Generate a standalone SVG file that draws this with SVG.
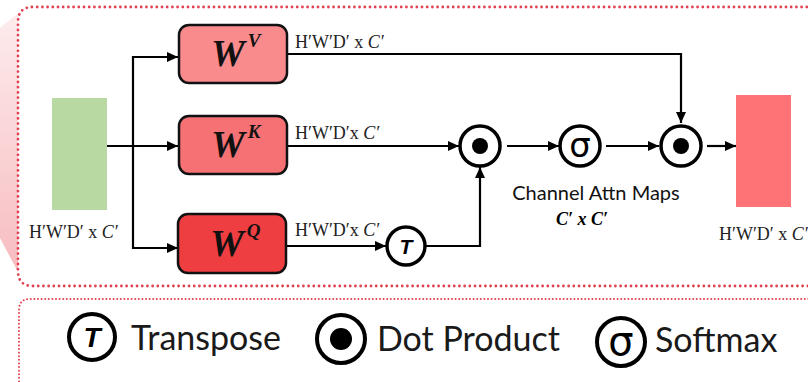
<svg xmlns="http://www.w3.org/2000/svg" width="808" height="382" viewBox="0 0 808 382">
  <defs>
    <marker id="arrow" markerUnits="userSpaceOnUse" markerWidth="11" markerHeight="10" refX="11" refY="5" orient="auto">
      <path d="M0,0 L11,5 L0,10 z" fill="#000"/>
    </marker>
    <linearGradient id="sideFade" x1="0" y1="0" x2="0" y2="1">
      <stop offset="0" stop-color="#fdeced"/>
      <stop offset="1" stop-color="#f7bcc0"/>
    </linearGradient>
  </defs>
  <style>
    .frame { fill: none; stroke: #e0404f; stroke-linecap: round; }
    .wbox { stroke: #111; stroke-width: 2.5; }
    .op { fill: #fff; stroke: #000; stroke-width: 3.5; }
    .wire { fill: none; stroke: #000; stroke-width: 2.2; }
    .dim { font-family: "Liberation Serif", serif; font-size: 18px; fill: #222; }
    .dim .it { font-style: italic; }
    .wmain { font-family: "Liberation Serif", serif; font-weight: bold; font-style: italic; fill: #111; }
    .sans { font-family: Lato, "Open Sans", sans-serif; fill: #111; }
    .legend { font-weight: 400; fill: #1a1a1a; }
  </style>

  <rect width="808" height="382" fill="#fff"/>

  <!-- side fade on the left -->
  <polygon points="0,28 18,13 18,272 0,238" fill="url(#sideFade)"/>

  <!-- dotted frames -->
  <path class="frame" d="M812 7 H33 Q18 7 18 22 V271 Q18 286 33 286 H812" stroke-width="2.8" stroke-dasharray="0 5.2"/>
  <path class="frame" d="M812 299 H30 Q19 299 19 310 V392" stroke-width="2" stroke-dasharray="0 3.6"/>

  <!-- connectors -->
  <g id="connectors">
    <line class="wire" x1="107" y1="146" x2="178" y2="146" marker-end="url(#arrow)"/>
    <polyline class="wire" points="178,57 133,57 133,248 178,248" marker-end="url(#arrow)"/>
    <line class="wire" x1="133" y1="57" x2="178" y2="57" marker-end="url(#arrow)"/>
    <polyline class="wire" points="287,54 681,54 681,123" marker-end="url(#arrow)"/>
    <line class="wire" x1="287" y1="146" x2="459" y2="146" marker-end="url(#arrow)"/>
    <line class="wire" x1="285" y1="246" x2="386" y2="246" marker-end="url(#arrow)"/>
    <polyline class="wire" points="425,246 480,246 480,167" marker-end="url(#arrow)"/>
    <line class="wire" x1="507" y1="146" x2="559" y2="146" marker-end="url(#arrow)"/>
    <line class="wire" x1="606" y1="146" x2="659" y2="146" marker-end="url(#arrow)"/>
    <line class="wire" x1="707" y1="146" x2="736" y2="146" marker-end="url(#arrow)"/>
  </g>

  <!-- input feature map -->
  <g id="input">
    <rect x="52" y="98" width="55" height="112" fill="#b8d9a1"/>
    <text class="dim" x="29" y="238">H′W′D′ x <tspan class="it">C′</tspan></text>
  </g>

  <!-- projections -->
  <g id="wv">
    <rect class="wbox" x="179" y="25" width="108" height="58" rx="10" fill="#f98b8d"/>
    <text class="wmain" x="211" y="66" font-size="38">W<tspan font-size="19" dx="3" dy="-19">V</tspan></text>
  </g>
  <g id="wk">
    <rect class="wbox" x="179" y="116" width="108" height="58" rx="10" fill="#f57174"/>
    <text class="wmain" x="211" y="157" font-size="38">W<tspan font-size="19" dx="3" dy="-19">K</tspan></text>
  </g>
  <g id="wq">
    <rect class="wbox" x="178" y="214" width="108" height="59" rx="10" fill="#ee3e41"/>
    <text class="wmain" x="210" y="256" font-size="38">W<tspan font-size="19" dx="3" dy="-19">Q</tspan></text>
  </g>

  <!-- dimension labels on the branches -->
  <g id="dims">
    <text class="dim" x="295" y="48">H′W′D′ x <tspan class="it">C′</tspan></text>
    <text class="dim" x="295" y="139">H′W′D′x <tspan class="it">C′</tspan></text>
    <text class="dim" x="295" y="236">H′W′D′x <tspan class="it">C′</tspan></text>
  </g>

  <!-- transpose -->
  <g id="transpose">
    <circle class="op" cx="406" cy="246" r="19"/>
    <text x="406" y="254" text-anchor="middle" font-family="'Liberation Sans', sans-serif" font-weight="bold" font-style="italic" font-size="21">T</text>
  </g>

  <!-- dot product K.Q -->
  <g id="dot1">
    <circle class="op" cx="480" cy="146" r="20"/>
    <circle cx="480" cy="146" r="8" fill="#000"/>
  </g>

  <!-- softmax -->
  <g id="softmax">
    <circle class="op" cx="580" cy="146" r="20"/>
    <text x="580" y="157" text-anchor="middle" font-family="'DejaVu Sans', sans-serif" font-size="34">σ</text>
  </g>

  <!-- dot product with V -->
  <g id="dot2">
    <circle class="op" cx="681" cy="146" r="20"/>
    <circle cx="681" cy="146" r="8" fill="#000"/>
  </g>

  <g id="attn-label">
    <text class="sans" x="596" y="200" text-anchor="middle" font-size="20">Channel Attn Maps</text>
    <text x="582" y="225" text-anchor="middle" font-family="'Liberation Serif', serif" font-weight="bold" font-style="italic" font-size="18">C′ x C′</text>
  </g>

  <!-- output feature map -->
  <g id="output">
    <rect x="736" y="95" width="55" height="112" fill="#fe7375"/>
    <text class="dim" x="719" y="240">H′W′D′ x <tspan class="it">C′</tspan></text>
  </g>

  <!-- legend -->
  <g id="legend-transpose">
    <circle cx="92" cy="337" r="23" fill="#fff" stroke="#000" stroke-width="4"/>
    <text x="92" y="347" text-anchor="middle" font-family="'Liberation Sans', sans-serif" font-weight="bold" font-style="italic" font-size="28">T</text>
    <text class="sans legend" x="131" y="350" font-size="34">Transpose</text>
  </g>
  <g id="legend-dot">
    <circle cx="341" cy="339" r="24" fill="#fff" stroke="#000" stroke-width="4"/>
    <circle cx="341" cy="339" r="11" fill="#000"/>
    <text class="sans legend" x="377" y="351" font-size="34">Dot Product</text>
  </g>
  <g id="legend-softmax">
    <circle cx="621" cy="342" r="24" fill="#fff" stroke="#000" stroke-width="4"/>
    <text x="621" y="355" text-anchor="middle" font-family="'DejaVu Sans', sans-serif" font-size="40">σ</text>
    <text class="sans legend" x="655" y="352" font-size="34">Softmax</text>
  </g>
</svg>
